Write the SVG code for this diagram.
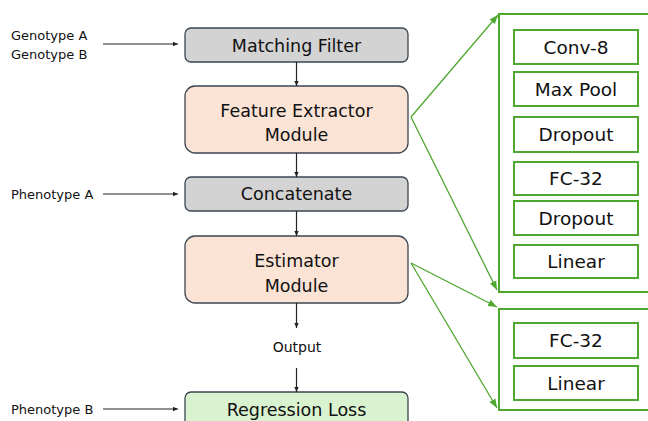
<svg xmlns="http://www.w3.org/2000/svg" width="648" height="421" viewBox="0 0 648 421">
  <defs>
    <marker id="arrow" markerWidth="6" markerHeight="6" refX="5" refY="3" orient="auto" markerUnits="userSpaceOnUse">
      <path d="M0,0.8 L5,3 L0,5.2 Z" fill="#222"/>
    </marker>
    <marker id="garrow" markerWidth="10" markerHeight="10" refX="9" refY="5" orient="auto" markerUnits="userSpaceOnUse">
      <path d="M0,1.5 L9,5 L0,8.5 Z" fill="#4ea72e"/>
    </marker>
    <style>
      text { font-family: "DejaVu Sans", "Liberation Sans", sans-serif; fill: #111; }
      .box { stroke: #3b4651; stroke-width: 1.3; }
      .gray { fill: #d3d3d3; }
      .peach { fill: #fbe3d6; }
      .mint { fill: #d9f2d0; }
      .main { font-size: 17.5px; text-anchor: middle; }
      .side { font-size: 13px; }
      .layer { fill: #ffffff; stroke: #4ea72e; stroke-width: 2; }
      .panel { fill: #ffffff; stroke: #4ea72e; stroke-width: 2; }
      .ltxt { font-size: 18.5px; text-anchor: middle; }
      .flow { stroke: #222; stroke-width: 1.2; fill: none; marker-end: url(#arrow); }
      .zoom { stroke: #4ea72e; stroke-width: 1.3; fill: none; marker-end: url(#garrow); }
    </style>
  </defs>

  <!-- input labels -->
  <g id="inputs">
    <text class="side" x="11" y="40">Genotype A</text>
    <text class="side" x="11" y="59">Genotype B</text>
    <text class="side" x="11" y="199">Phenotype A</text>
    <text class="side" x="11" y="414">Phenotype B</text>
  </g>

  <!-- pipeline stages -->
  <g id="matching-filter">
    <rect class="box gray" x="185" y="28" width="223" height="34" rx="6"/>
    <text class="main" x="296.5" y="51.5">Matching Filter</text>
  </g>
  <g id="feature-extractor">
    <rect class="box peach" x="185" y="86" width="223" height="67" rx="10"/>
    <text class="main" x="296.5" y="117">Feature Extractor</text>
    <text class="main" x="296.5" y="141">Module</text>
  </g>
  <g id="concatenate">
    <rect class="box gray" x="185" y="177" width="223" height="34" rx="6"/>
    <text class="main" x="296.5" y="200">Concatenate</text>
  </g>
  <g id="estimator">
    <rect class="box peach" x="185" y="236" width="223" height="67" rx="10"/>
    <text class="main" x="296.5" y="267">Estimator</text>
    <text class="main" x="296.5" y="292">Module</text>
  </g>
  <g id="output">
    <text x="297" y="352" style="font-size:14px;text-anchor:middle">Output</text>
  </g>
  <g id="regression-loss">
    <rect class="box mint" x="185" y="392" width="223" height="45" rx="6"/>
    <text class="main" x="296.5" y="416">Regression Loss</text>
  </g>

  <!-- feature extractor layers -->
  <g id="feature-layers">
    <rect class="panel" x="499" y="14" width="160" height="278"/>
    <rect class="layer" x="514" y="30" width="124" height="34"/>
    <text class="ltxt" x="576" y="54">Conv-8</text>
    <rect class="layer" x="514" y="72" width="124" height="34"/>
    <text class="ltxt" x="576" y="95.5">Max Pool</text>
    <rect class="layer" x="514" y="117" width="124" height="35"/>
    <text class="ltxt" x="576" y="141">Dropout</text>
    <rect class="layer" x="514" y="162" width="124" height="33"/>
    <text class="ltxt" x="576" y="185">FC-32</text>
    <rect class="layer" x="514" y="201" width="124" height="34"/>
    <text class="ltxt" x="576" y="224.5">Dropout</text>
    <rect class="layer" x="514" y="245" width="124" height="33"/>
    <text class="ltxt" x="576" y="268">Linear</text>
  </g>

  <!-- estimator layers -->
  <g id="estimator-layers">
    <rect class="panel" x="499" y="309" width="160" height="101"/>
    <rect class="layer" x="514" y="323" width="124" height="35"/>
    <text class="ltxt" x="576" y="347">FC-32</text>
    <rect class="layer" x="514" y="366" width="124" height="34"/>
    <text class="ltxt" x="576" y="389.5">Linear</text>
  </g>

  <!-- connectors -->
  <g id="connectors">
    <line class="flow" x1="103" y1="44" x2="178" y2="44"/>
    <line class="flow" x1="103" y1="194" x2="178" y2="194"/>
    <line class="flow" x1="103" y1="409" x2="178" y2="409"/>
    <line class="flow" x1="296.5" y1="62" x2="296.5" y2="86"/>
    <line class="flow" x1="296.5" y1="153" x2="296.5" y2="177"/>
    <line class="flow" x1="296.5" y1="211" x2="296.5" y2="236"/>
    <line class="flow" x1="296.5" y1="303" x2="296.5" y2="328"/>
    <line class="flow" x1="296.5" y1="368" x2="296.5" y2="392"/>
    <line class="zoom" x1="411" y1="117" x2="498" y2="15"/>
    <line class="zoom" x1="411" y1="117" x2="497" y2="290"/>
    <line class="zoom" x1="411" y1="263" x2="497" y2="307"/>
    <line class="zoom" x1="411" y1="263" x2="497" y2="408"/>
  </g>
</svg>
